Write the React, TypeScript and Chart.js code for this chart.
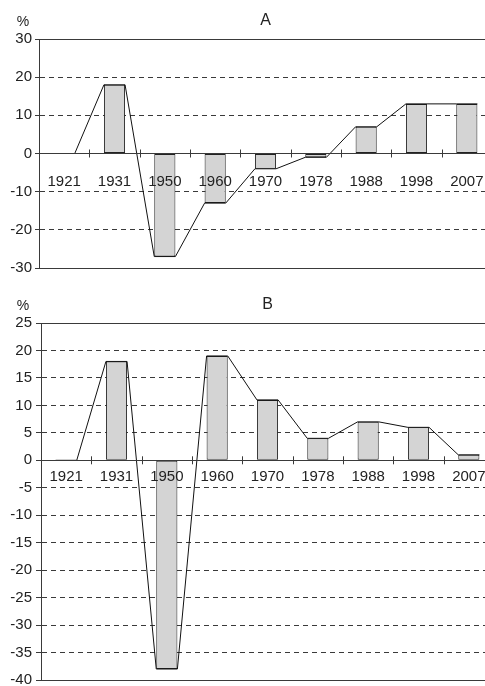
import { useEffect, useRef } from "react";
import { Chart, registerables } from "chart.js";

Chart.register(...registerables);

// ---- data ----
const years = ["1921", "1931", "1950", "1960", "1970", "1978", "1988", "1998", "2007"];
const valuesA = [0, 18, -27, -13, -4, -1, 7, 13, 13];
const valuesB = [0, 18, -38, 19, 11, 4, 7, 6, 1];
const rangeA = [-30, 30, 10]; // min, max, step
const rangeB = [-40, 25, 5];
const titleA = "A";
const titleB = "B";
const unitLabel = "%";

// ---- styling ----
const FAMILY = "'Liberation Sans', Arial, sans-serif";
const FSIZE = 15;
const TEXT = "#222";
const LINE = "#3a3a3a";
const BAR_PCT = 0.42;

const decor = {
  id: "decor",
  afterDatasetsDraw(chart: any) {
    const ctx = chart.ctx;
    const x2 = chart.scales.x2;
    const y = chart.scales.y;
    const y0 = y.getPixelForValue(0);
    ctx.save();
    ctx.strokeStyle = LINE;
    ctx.lineWidth = 1;
    for (let i = 0; i < years.length; i++) {
      const xb = Math.round(x2.getPixelForValue(i + 0.5)) + 0.5;
      ctx.beginPath();
      ctx.moveTo(xb, y0 - 4);
      ctx.lineTo(xb, y0 + 4);
      ctx.stroke();
    }
    ctx.restore();
  },
  afterDraw(chart: any, _args: any, opts: any) {
    const ctx = chart.ctx;
    const ca = chart.chartArea;
    ctx.save();
    ctx.fillStyle = TEXT;
    ctx.textBaseline = "alphabetic";
    ctx.textAlign = "center";
    ctx.font = `16px ${FAMILY}`;
    ctx.fillText(opts.title, (ca.left + ca.right) / 2, ca.top - 14);
    ctx.font = `14px ${FAMILY}`;
    ctx.fillText(opts.unit, 23, ca.top - 13);
    ctx.restore();
  },
};

function makeConfig(values: number[], title: string, range: number[], geom: any): any {
  const [min, max, step] = range;
  const hw = BAR_PCT / 2;
  const linePts = values.flatMap((v, i) => [
    { x: i - hw, y: v },
    { x: i + hw, y: v },
  ]);
  return {
    type: "bar",
    data: {
      labels: years,
      datasets: [
        {
          type: "line",
          data: linePts,
          xAxisID: "x2",
          yAxisID: "y",
          borderColor: "#111",
          borderWidth: 1,
          pointRadius: 0,
          tension: 0,
          fill: false,
          order: 0,
        },
        {
          type: "bar",
          data: values,
          xAxisID: "x",
          yAxisID: "y",
          backgroundColor: "#d4d4d4",
          borderColor: "#222",
          borderWidth: 1,
          borderSkipped: false,
          grouped: false,
          barPercentage: BAR_PCT,
          categoryPercentage: 1,
          order: 1,
        },
      ],
    },
    options: {
      responsive: false,
      animation: false,
      layout: { padding: { top: geom.top, bottom: geom.bottom, left: 0, right: geom.right } },
      plugins: {
        legend: { display: false },
        tooltip: { enabled: false },
        title: { display: false },
        decor: { title, unit: unitLabel },
      },
      scales: {
        x: {
          type: "category",
          position: { y: 0 },
          offset: true,
          grid: { display: true, drawOnChartArea: false, drawTicks: false },
          border: { display: true, color: LINE, width: 1, z: 1 },
          ticks: {
            z: 1,
            color: TEXT,
            font: { family: FAMILY, size: FSIZE },
            padding: geom.labelPad,
            maxRotation: 0,
            autoSkip: false,
          },
        },
        x2: {
          type: "linear",
          display: false,
          offset: false,
          grid: { offset: false },
          min: -0.5,
          max: values.length - 0.5,
        },
        y: {
          type: "linear",
          min,
          max,
          ticks: { stepSize: step, color: TEXT, font: { family: FAMILY, size: FSIZE }, padding: geom.tickPad },
          grid: { color: LINE, lineWidth: 1, tickLength: geom.tickLen, drawTicks: true },
          border: {
            display: true,
            color: LINE,
            width: 1,
            dash: (c: any) => {
              const v = c && c.tick ? c.tick.value : undefined;
              return v === undefined || v === 0 || v === min || v === max ? [] : [5, 4];
            },
          },
          afterFit: (s: any) => {
            s.width = geom.left;
          },
        },
      },
    },
    plugins: [decor],
  };
}

export default function App() {
  const refA = useRef<HTMLCanvasElement>(null);
  const refB = useRef<HTMLCanvasElement>(null);
  useEffect(() => {
    const a = new Chart(
      refA.current as HTMLCanvasElement,
      makeConfig(valuesA, titleA, rangeA, { left: 39, top: 39, bottom: 12, right: 40, tickLen: 4, tickPad: 3, labelPad: 19 })
    );
    const b = new Chart(
      refB.current as HTMLCanvasElement,
      makeConfig(valuesB, titleB, rangeB, { left: 41, top: 43, bottom: 20, right: 38, tickLen: 5, tickPad: 4, labelPad: 8 })
    );
    return () => {
      a.destroy();
      b.destroy();
    };
  }, []);
  return (
    <div
      style={{
        position: "fixed",
        left: 0,
        top: 0,
        width: 485,
        height: 686,
        overflow: "hidden",
        background: "#fff",
      }}
    >
      <canvas ref={refA} width={532} height={280} style={{ position: "absolute", left: 0, top: 0 }} />
      <canvas ref={refB} width={532} height={420} style={{ position: "absolute", left: 0, top: 280 }} />
    </div>
  );
}
